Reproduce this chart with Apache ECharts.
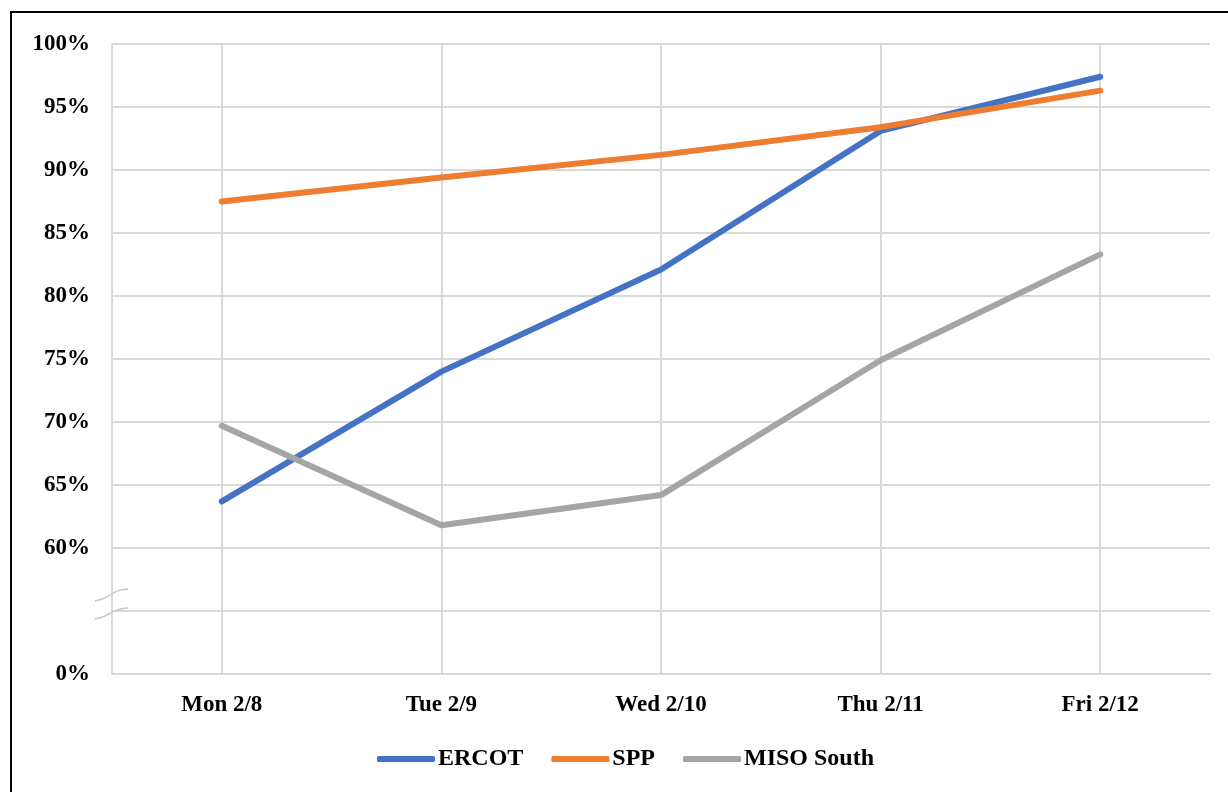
<!DOCTYPE html>
<html><head><meta charset="utf-8">
<script src="https://cdn.jsdelivr.net/npm/echarts@6/dist/echarts.min.js"></script>
<style>html,body{margin:0;padding:0;background:#fff}#c{width:1228px;height:792px}</style>
</head><body><div id="c"></div>
<script>
const categories = ['Mon 2/8', 'Tue 2/9', 'Wed 2/10', 'Thu 2/11', 'Fri 2/12'];
const ercot = [63.7, 74.0, 82.1, 93.1, 97.4];
const spp = [87.5, 89.4, 91.2, 93.4, 96.3];
const misoSouth = [69.7, 61.8, 64.2, 74.9, 83.3];
const yMin = 50, yMax = 100, yStep = 5;
function yLabel(v) { if (v === 50) return '0%'; if (v === 55) return ''; return v + '%'; }

const font = 'Liberation Serif';
const chart = echarts.init(document.getElementById('c'));
const lw = 6;
const lineCommon = { type: 'line', showSymbol: false, symbol: 'none', z: 3 };
chart.setOption({
  animation: false,
  grid: { left: 112, right: 18, top: 44, bottom: 118, containLabel: false },
  xAxis: {
    type: 'category', data: categories, boundaryGap: true,
    axisLine: { show: true, lineStyle: { color: '#d9d9d9', width: 2 } },
    axisTick: { show: false },
    splitLine: { show: false },
    axisLabel: { color: '#000', fontFamily: font, fontWeight: 'bold', fontSize: 23, margin: 20 }
  },
  yAxis: {
    type: 'value', min: yMin, max: yMax, interval: yStep,
    axisLine: { show: true, lineStyle: { color: '#d9d9d9', width: 2 } },
    axisTick: { show: false },
    splitLine: { show: true, lineStyle: { color: '#d9d9d9', width: 2 } },
    axisLabel: { color: '#000', fontFamily: font, fontWeight: 'bold', fontSize: 23, margin: 22, formatter: yLabel }
  },
  legend: {
    top: 742, left: 372,
    data: ['ERCOT', 'SPP', 'MISO South'],
    icon: 'roundRect', itemWidth: 58, itemHeight: 6, itemGap: 28,
    textStyle: { color: '#000', fontFamily: font, fontWeight: 'bold', fontSize: 24, padding: [0, 0, 0, -2] }
  },
  series: [
    { name: 'grid-v', type: 'line', data: [], z: 1,
      markLine: { silent: true, symbol: 'none', z: 1, label: { show: false },
        lineStyle: { color: '#d9d9d9', width: 2, type: 'solid' },
        data: categories.map(c => ({ xAxis: c })) } },
    Object.assign({}, lineCommon, { name: 'ERCOT', data: ercot, itemStyle: { color: '#4472C4' }, lineStyle: { width: lw, cap: 'round', join: 'round', color: '#4472C4' } }),
    Object.assign({}, lineCommon, { name: 'SPP', data: spp, itemStyle: { color: '#ED7D31' }, lineStyle: { width: lw, cap: 'round', join: 'round', color: '#ED7D31' } }),
    Object.assign({}, lineCommon, { name: 'MISO South', data: misoSouth, itemStyle: { color: '#A5A5A5' }, lineStyle: { width: lw, cap: 'round', join: 'round', color: '#A5A5A5' } })
  ],
  graphic: [
    { type: 'rect', shape: { x: 11, y: 12, width: 1260, height: 820 }, style: { fill: null, stroke: '#000', lineWidth: 2 }, silent: true, z: 10 },
    { type: 'bezierCurve', shape: { x1: 95, y1: 601, x2: 128, y2: 589, cpx1: 112, cpy1: 598, cpx2: 110, cpy2: 590 }, style: { stroke: '#c8c8c8', lineWidth: 1.5, fill: null }, silent: true, z: 10 },
    { type: 'bezierCurve', shape: { x1: 95, y1: 619, x2: 128, y2: 608, cpx1: 112, cpy1: 616, cpx2: 110, cpy2: 609 }, style: { stroke: '#c8c8c8', lineWidth: 1.5, fill: null }, silent: true, z: 10 }
  ]
});
</script></body></html>
